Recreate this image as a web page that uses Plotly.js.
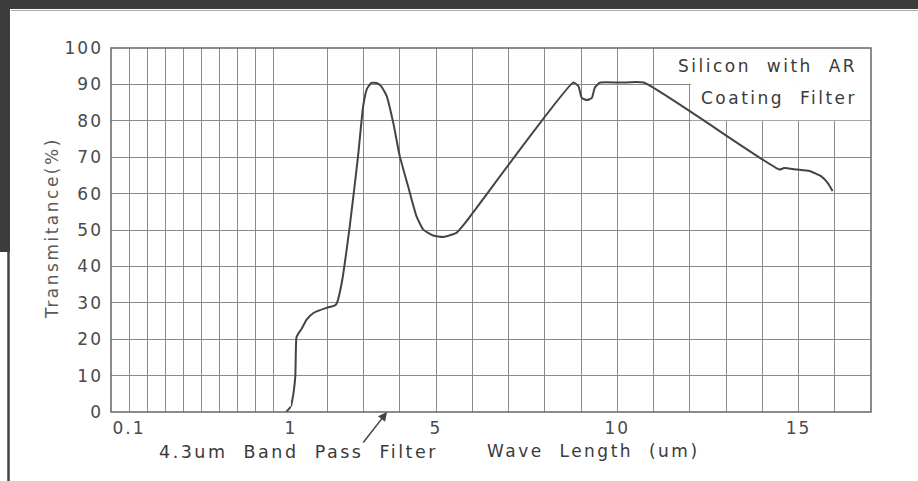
<!DOCTYPE html>
<html>
<head>
<meta charset="utf-8">
<script src="https://cdn.plot.ly/plotly-3.0.1.min.js"></script>
<style>
  html, body { margin: 0; padding: 0; background: #fff; }
  #chart { width: 918px; height: 481px; }
  .annotation-text { letter-spacing: 2.5px; }
  .ytick text, .xtick text, .x2tick text { letter-spacing: 2px; }
</style>
</head>
<body>
<div id="chart"></div>
<script>
// ---- data ----
const wavelength = [0.973, 1.0, 1.05, 1.08, 1.12, 1.15, 1.2, 1.29, 1.43, 1.62, 1.98, 2.2, 2.26,
  2.4, 2.62, 2.85, 2.99, 3.1, 3.22, 3.36, 3.48, 3.64, 3.82, 4.0, 4.23, 4.46, 4.65, 4.92, 5.2, 5.56, 5.84,
  8.79, 8.93, 9.02, 9.16, 9.3, 9.38, 9.52, 10.1, 10.73, 14.47, 14.6, 14.95, 15.3, 15.62, 15.8, 15.94];
const transmittance = [0, 1.5, 4, 6, 10, 20.5, 21.5, 22.8, 25.4, 27.2, 28.6, 29.2, 29.8,
  35.5, 51, 70.3, 84, 88.9, 90.4, 90.4, 89.6, 86.8, 79.5, 70.3, 62, 53.8, 50.1, 48.5, 48.1, 49.2, 52.4,
  90.5, 89.5, 86.3, 85.7, 86.3, 89.1, 90.5, 90.5, 90.5, 66.6, 67.0, 66.6, 66.2, 64.8, 63, 60.7];

const yTicks = [0, 10, 20, 30, 40, 50, 60, 70, 80, 90, 100];
const xTicksLow = [0.1, 0.2, 0.3, 0.4, 0.5, 0.6, 0.7, 0.8, 0.9];
const xTicksLowText = ['0.1', '', '', '', '', '', '', '', ''];
const xTicksHigh = [1, 2, 3, 4, 5, 6, 7, 8, 9, 10, 11, 12, 13, 14, 15, 16];
const xTicksHighText = ['1', '', '', '', '5', '', '', '', '', '10', '', '', '', '', '15', ''];

const chartTitleLines = ['Silicon\u00a0 with\u00a0 AR', 'Coating\u00a0 Filter'];
const xTitle = 'Wave\u00a0 Length\u00a0 (um)';
const yTitle = 'Transmitance(%)';
const arrowLabel = '4.3um\u00a0 Band\u00a0 Pass\u00a0 Filter';
const arrowAt = 3.65;

// ---- split the curve over the two scale segments ----
const lowX = [], lowY = [], highX = [], highY = [];
wavelength.forEach((w, i) => {
  if (w <= 1) { lowX.push(w); lowY.push(transmittance[i]); }
  if (w >= 1) { highX.push(w); highY.push(transmittance[i]); }
});

const W = 918, H = 481;
const M = {l: 111, r: 47, t: 48, b: 69};
const PW = W - M.l - M.r, PH = H - M.t - M.b;
const px = x => (x - M.l) / PW;
const py = y => (H - M.b - y) / PH;
const split = 180 / PW;

const ink = '#444';
const gridCol = '#8a8a8a';
const textCol = '#4a4a4a';
const fontFam = 'DejaVu Sans, sans-serif';

const lineStyle = {color: ink, width: 2, shape: 'spline', smoothing: 0.45};
const traces = [
  {x: lowX, y: lowY, xaxis: 'x', yaxis: 'y', mode: 'lines', line: lineStyle, hoverinfo: 'skip'},
  {x: highX, y: highY, xaxis: 'x2', yaxis: 'y', mode: 'lines', line: lineStyle, hoverinfo: 'skip'}
];

const axisCommon = {
  showgrid: true, gridcolor: gridCol, gridwidth: 1, zeroline: false,
  showline: false, ticks: '', tickmode: 'array', ticklabelstandoff: 4,
  tickfont: {family: fontFam, size: 17, color: textCol}
};

const layout = {
  width: W, height: H,
  margin: M,
  paper_bgcolor: '#fff', plot_bgcolor: '#fff',
  showlegend: false,
  xaxis: Object.assign({}, axisCommon, {domain: [0, split], range: [0, 1],
    tickvals: xTicksLow, ticktext: xTicksLowText, anchor: 'y'}),
  xaxis2: Object.assign({}, axisCommon, {domain: [split, 1], range: [1, 17],
    tickvals: xTicksHigh, ticktext: xTicksHighText, anchor: 'y'}),
  yaxis: Object.assign({}, axisCommon, {range: [0, 100], tickvals: yTicks,
    ticktext: yTicks.map(String), anchor: 'x', ticklabelstandoff: 7}),
  shapes: [
    // white label box cutting the grid
    {type: 'rect', xref: 'x2', yref: 'y', x0: 11.03, x1: 17, y0: 90.15, y1: 100,
      fillcolor: '#fff', line: {width: 0}, layer: 'between'},
    {type: 'rect', xref: 'x2', yref: 'y', x0: 12.03, x1: 17, y0: 80.15, y1: 90.15,
      fillcolor: '#fff', line: {width: 0}, layer: 'between'},
    // plot frame
    {type: 'rect', xref: 'paper', yref: 'paper', x0: 0, x1: 1, y0: 0, y1: 1,
      line: {color: '#666', width: 1.5}, layer: 'above'},
    // scanned page edges
    {type: 'rect', xref: 'paper', yref: 'paper', x0: px(0), x1: px(W), y0: py(0), y1: py(9),
      fillcolor: '#3c3c3c', line: {width: 0}, layer: 'above'},
    {type: 'line', xref: 'paper', yref: 'paper', x0: px(11), x1: px(W), y0: py(10.5), y1: py(10.5),
      line: {color: '#aaa', width: 1}, layer: 'above'},
    {type: 'rect', xref: 'paper', yref: 'paper', x0: px(0), x1: px(10), y0: py(0), y1: py(252),
      fillcolor: '#3c3c3c', line: {width: 0}, layer: 'above'},
    {type: 'line', xref: 'paper', yref: 'paper', x0: px(8.5), x1: px(8.5), y0: py(250), y1: py(H),
      line: {color: '#444', width: 2.5}, layer: 'above'}
  ],
  annotations: [
    {xref: 'paper', yref: 'paper', x: px(859), y: py(66), xanchor: 'right', yanchor: 'middle',
      text: chartTitleLines[0], showarrow: false, font: {family: fontFam, size: 17, color: '#3a3a3a'}},
    {xref: 'paper', yref: 'paper', x: px(859), y: py(98), xanchor: 'right', yanchor: 'middle',
      text: chartTitleLines[1], showarrow: false, font: {family: fontFam, size: 17, color: '#3a3a3a'}},
    {xref: 'paper', yref: 'paper', x: px(593), y: py(451), xanchor: 'center', yanchor: 'middle',
      text: xTitle, showarrow: false, font: {family: fontFam, size: 17, color: '#3a3a3a'}},
    {xref: 'paper', yref: 'paper', x: px(298), y: py(452), xanchor: 'center', yanchor: 'middle',
      text: arrowLabel, showarrow: false, font: {family: fontFam, size: 17.5, color: '#3a3a3a'}},
    {xref: 'paper', yref: 'paper', x: px(52), y: py(228), xanchor: 'center', yanchor: 'middle',
      text: yTitle, textangle: -90, showarrow: false, font: {family: fontFam, size: 17, color: '#5a5a5a'}},
    {xref: 'x2', yref: 'y', x: arrowAt, y: 0, ax: -25, ay: 32, text: '', showarrow: true,
      arrowhead: 2, arrowsize: 1.2, arrowwidth: 1.5, arrowcolor: '#444', standoff: 0}
  ]
};

Plotly.newPlot('chart', traces, layout, {staticPlot: true, displayModeBar: false});
</script>
</body>
</html>
